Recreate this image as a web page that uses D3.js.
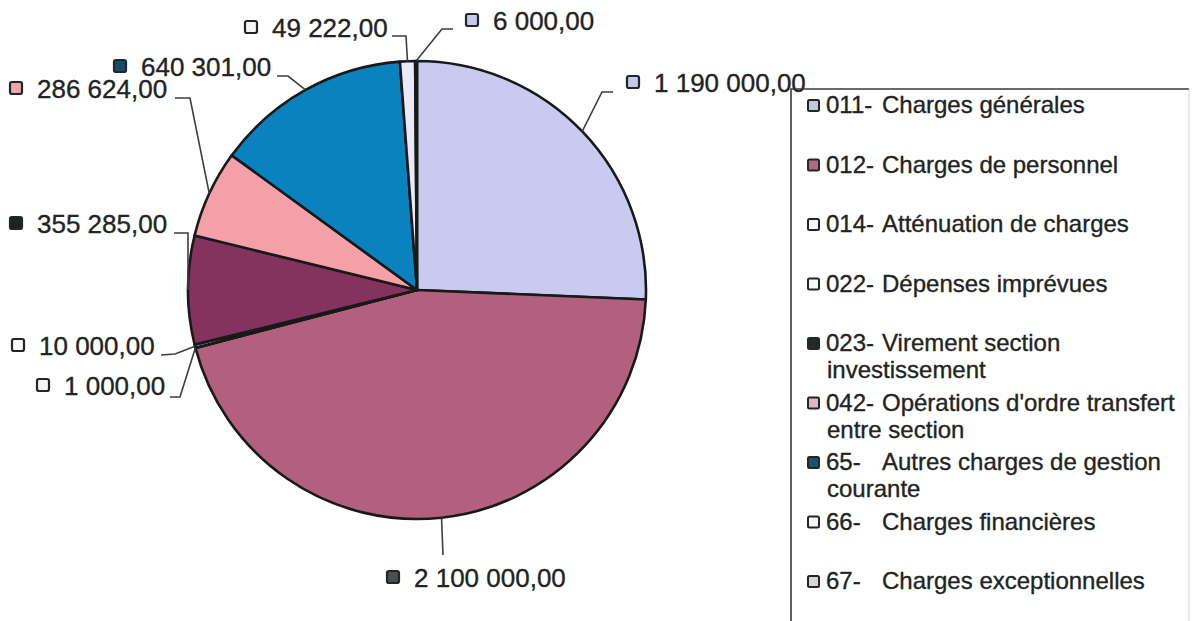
<!DOCTYPE html>
<html>
<meta charset="utf-8">
<head>
<script src="https://cdn.jsdelivr.net/npm/d3@7/dist/d3.min.js"></script>
<style>
  body { margin: 0; background: #fff; }
  text { font-family: "Liberation Sans", Arial, sans-serif; fill: #1f2424; stroke: #1f2424; stroke-width: 0.35; }
</style>
</head>
<body>
<div id="chart"></div>
<script>
// data
var codes = ["011-", "012-", "014-", "022-", "023-", "042-", "65-", "66-", "67-"];
var names = ["Charges générales", "Charges de personnel", "Atténuation de charges",
  "Dépenses imprévues", "Virement section investissement",
  "Opérations d'ordre transfert entre section", "Autres charges de gestion courante",
  "Charges financières", "Charges exceptionnelles"];
var values = [1190000, 2100000, 1000, 10000, 355285, 286624, 640301, 49222, 6000];

// styles
var sliceColors = ["#cacaf0", "#b2607e", "#ffffff", "#ffffff", "#86325f", "#f5a0a8", "#0a82bf", "#ece9f7", "#c9c9ef"];
var labelMarks = ["#c8c8ec", "#4a4f4f", "#f6f6f6", "#f8f8f8", "#1f2222", "#f0a3ab", "#164d6b", "#f6f6f6", "#c8c8ec"];
var legendMarks = ["#c8c8dc", "#b06a80", "#f8f8f8", "#f8f8f8", "#252828", "#e2b3c2", "#1a5070", "#f8f8f8", "#d8d8d8"];

// label layout: marker x, baseline y, elbow, end of the horizontal tick
var labelPos = [
  { mx: 627, y: 92, elbow: [602, 92], end: [613, 92] },
  { mx: 387, y: 587, elbow: null, end: [443, 555] },
  { mx: 37, y: 395, elbow: [180, 397], end: [170, 397] },
  { mx: 12, y: 355, elbow: [175, 354], end: [161, 355] },
  { mx: 10, y: 233, elbow: [188, 233], end: [174, 233] },
  { mx: 10, y: 98, elbow: [190, 98], end: [175, 98] },
  { mx: 114, y: 76, elbow: [288, 76], end: [277, 76] },
  { mx: 245, y: 37, elbow: [406, 36], end: [392, 36] },
  { mx: 466, y: 30, elbow: [442, 29], end: [453, 29] }
];

var width = 1194, height = 621;
var cx = 417, cy = 290, radius = 229;

var fr = d3.formatLocale({ decimal: ",", thousands: " ", grouping: [3], currency: ["", ""] });
var fmt = fr.format(",.2f");

var svg = d3.select("#chart").append("svg")
  .attr("width", width).attr("height", height);

svg.append("rect").attr("width", width).attr("height", height).attr("fill", "#fff");

var pie = d3.pie().sort(null).value(function(d) { return d; });
var arcs = pie(values);

var arc = d3.arc().innerRadius(0).outerRadius(radius);
var edge = d3.arc().innerRadius(radius).outerRadius(radius);

var g = svg.append("g").attr("transform", "translate(" + cx + "," + cy + ")");

g.selectAll("path.slice")
  .data(arcs)
  .enter().append("path")
  .attr("class", "slice")
  .attr("d", arc)
  .attr("fill", function(d, i) { return sliceColors[i]; })
  .attr("stroke", "#181a1a")
  .attr("stroke-width", 2.6)
  .attr("stroke-linejoin", "round");

// leader lines
svg.selectAll("path.leader")
  .data(arcs)
  .enter().append("path")
  .attr("class", "leader")
  .attr("d", function(d, i) {
    var p = edge.centroid(d);
    var L = labelPos[i];
    var pts = [[cx + p[0], cy + p[1]]];
    if (L.elbow) pts.push(L.elbow);
    pts.push(L.end);
    return d3.line()(pts);
  })
  .attr("fill", "none")
  .attr("stroke", "#3c3f3f")
  .attr("stroke-width", 1.6);

// data labels
var labels = svg.selectAll("g.lab")
  .data(arcs)
  .enter().append("g")
  .attr("class", "lab");

labels.append("rect")
  .attr("x", function(d, i) { return labelPos[i].mx; })
  .attr("y", function(d, i) { return labelPos[i].y - 16; })
  .attr("width", 12).attr("height", 12).attr("rx", 2)
  .attr("fill", function(d, i) { return labelMarks[i]; })
  .attr("stroke", "#222626").attr("stroke-width", 2.2);

labels.append("text")
  .attr("x", function(d, i) { return labelPos[i].mx + 27; })
  .attr("y", function(d, i) { return labelPos[i].y; })
  .attr("font-size", 26)
  .text(function(d) { return fmt(d.data); });

// legend
var lx = 791, ly = 89;
svg.append("path")
  .attr("d", d3.line()([[lx, height], [lx, ly], [1189, ly]]))
  .attr("fill", "none").attr("stroke", "#3a3a3a").attr("stroke-width", 1.6);
svg.append("path")
  .attr("d", d3.line()([[1189, ly], [1189, height]]))
  .attr("fill", "none").attr("stroke", "#d4d4d4").attr("stroke-width", 1);

var rowY = d3.scalePoint().domain(d3.range(codes.length)).range([113, 589]);

var leg = svg.selectAll("g.leg")
  .data(codes)
  .enter().append("g")
  .attr("class", "leg");

leg.append("rect")
  .attr("x", 808)
  .attr("y", function(d, i) { return rowY(i) - 13; })
  .attr("width", 11).attr("height", 11).attr("rx", 1.5)
  .attr("fill", function(d, i) { return legendMarks[i]; })
  .attr("stroke", "#222626").attr("stroke-width", 2);

leg.each(function(d, i) {
  var t = d3.select(this).append("text")
    .attr("font-size", 24)
    .attr("y", rowY(i));
  t.append("tspan").attr("x", 826).text(codes[i]);
  var words = names[i].split(" ");
  var line = [];
  var ts = t.append("tspan").attr("x", 882);
  var lineNo = 0;
  words.forEach(function(w) {
    line.push(w);
    ts.text(line.join(" "));
    var right = (lineNo === 0 ? 882 : 827) + ts.node().getComputedTextLength();
    if (right > 1190 && line.length > 1) {
      line.pop();
      ts.text(line.join(" "));
      line = [w];
      lineNo++;
      ts = t.append("tspan").attr("x", 827).attr("y", rowY(i) + 27 * lineNo).text(w);
    }
  });
});
</script>
</body>
</html>
